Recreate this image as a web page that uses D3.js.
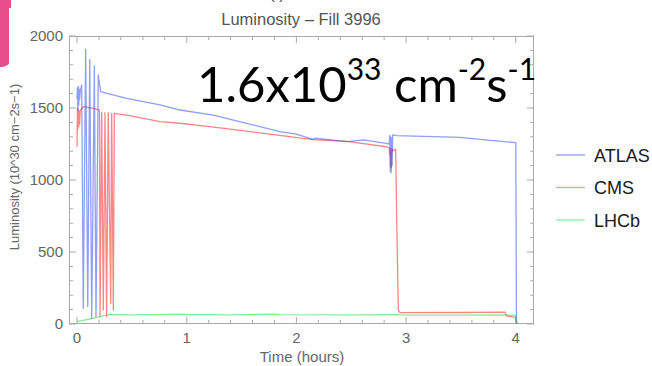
<!DOCTYPE html>
<html>
<head>
<meta charset="utf-8">
<script src="https://cdn.jsdelivr.net/npm/d3@7"></script>
<style>
  html, body { margin: 0; padding: 0; background: #fff; }
  svg { display: block; }
</style>
</head>
<body>
<div id="chart"></div>
<script>
// series (time in hours, luminosity in 10^30 cm-2 s-1)
const atlasTime = [0.000, 0.004, 0.008, 0.012, 0.016, 0.020, 0.024, 0.030, 0.043, 0.057, 0.079, 0.098, 0.116, 0.134, 0.158, 0.173, 0.194, 0.216, 0.300, 0.453, 0.757, 0.939, 1.243, 1.547, 1.850, 2.000, 2.150, 2.165, 2.460, 2.610, 2.820, 2.845, 2.852, 2.856, 2.860, 2.864, 2.868, 2.872, 2.878, 2.914, 3.490, 3.795, 4.000, 4.006];
const atlasLumi = [1560, 1640, 1480, 1650, 1520, 1630, 1560, 1620, 1660, 109, 1907, 121, 1838, 40, 1792, 51, 1729, 1613, 1597, 1567, 1521, 1486, 1451, 1394, 1336, 1319, 1282, 1290, 1266, 1278, 1255, 1250, 1310, 1060, 1300, 1050, 1290, 1100, 1313, 1308, 1296, 1273, 1259, 5];

const cmsTime = [0.000, 0.004, 0.008, 0.012, 0.016, 0.020, 0.024, 0.028, 0.032, 0.057, 0.150, 0.205, 0.210, 0.225, 0.240, 0.255, 0.270, 0.285, 0.307, 0.316, 0.331, 0.340, 0.453, 0.757, 0.939, 1.210, 1.547, 2.150, 2.460, 2.820, 2.845, 2.850, 2.854, 2.858, 2.862, 2.866, 2.870, 2.876, 2.899, 2.905, 2.915, 2.929, 2.944, 3.500, 3.900, 3.917, 4.000, 4.010];
const cmsLumi = [1231, 1500, 1350, 1490, 1370, 1480, 1390, 1470, 1486, 1509, 1498, 1486, 51, 1467, 97, 1467, 51, 1467, 144, 1463, 97, 1463, 1451, 1405, 1394, 1370, 1339, 1280, 1268, 1231, 1225, 1180, 1222, 1090, 1215, 1085, 1220, 1200, 1215, 1210, 700, 97, 79, 80, 83, 56, 46, 0];

const lhcbTime = [0.000, 0.149, 0.210, 0.300, 0.500, 0.950, 1.000, 1.400, 1.800, 1.850, 2.500, 2.900, 3.000, 3.500, 3.900, 4.000, 4.010];
const lhcbLumi = [16, 40, 51, 66, 64, 68, 66, 64, 68, 65, 64, 65, 62, 62, 63, 60, 0];

const xTicks = [0, 1, 2, 3, 4];
const yTicks = [0, 500, 1000, 1500, 2000];
const legendNames = ['ATLAS', 'CMS', 'LHCb'];

const W = 652, H = 366;
const frame = { left: 69, right: 534, top: 36, bottom: 324 };
const lineColors = ['rgb(50,80,235)', 'rgb(245,35,35)', 'rgb(40,220,70)'];
const legendColors = ['#8c9cf2', '#ff9c9c', '#8eee9e'];
const grey = '#666';

const svg = d3.select('#chart').append('svg')
  .attr('width', W)
  .attr('height', H);

// pink slide decoration peeking out at top left
svg.append('rect')
  .attr('x', -20).attr('y', -20)
  .attr('width', 31).attr('height', 87)
  .attr('rx', 9)
  .attr('fill', '#e84d8c');
svg.append('rect')
  .attr('x', 9).attr('y', 8)
  .attr('width', W).attr('height', H)
  .attr('fill', '#fff');

const x = d3.scaleLinear().domain([-0.073, 4.166]).range([frame.left, frame.right]);
const y = d3.scaleLinear().domain([0, 2000]).range([frame.bottom, frame.top]);

svg.append('clipPath').attr('id', 'plotclip')
  .append('rect')
  .attr('x', frame.left).attr('y', frame.top - 2)
  .attr('width', frame.right - frame.left)
  .attr('height', frame.bottom - frame.top + 2);

// frame ticks (major inward, minor shorter) on all four sides
const minorX = d3.range(0, 4.2, 0.2);
const minorY = d3.range(0, 2001, 100);
const axes = svg.append('g').attr('stroke', '#aaa').attr('stroke-width', 1);

axes.selectAll('.tb').data(minorX).enter().append('line')
  .attr('x1', d => x(d)).attr('x2', d => x(d))
  .attr('y1', frame.bottom).attr('y2', d => frame.bottom - (Math.abs(d - Math.round(d)) < 1e-6 ? 7 : 4));
axes.selectAll('.tt').data(minorX).enter().append('line')
  .attr('x1', d => x(d)).attr('x2', d => x(d))
  .attr('y1', frame.top).attr('y2', d => frame.top + (Math.abs(d - Math.round(d)) < 1e-6 ? 7 : 4));
axes.selectAll('.tl').data(minorY).enter().append('line')
  .attr('y1', d => y(d)).attr('y2', d => y(d))
  .attr('x1', frame.left).attr('x2', d => frame.left + (d % 500 === 0 ? 7 : 4));
axes.selectAll('.tr').data(minorY).enter().append('line')
  .attr('y1', d => y(d)).attr('y2', d => y(d))
  .attr('x1', frame.right).attr('x2', d => frame.right - (d % 500 === 0 ? 7 : 4));

axes.append('rect')
  .attr('x', frame.left + 0.5).attr('y', frame.top + 0.5)
  .attr('width', frame.right - frame.left - 1)
  .attr('height', frame.bottom - frame.top - 1)
  .attr('fill', 'none');

// tick labels
const labels = svg.append('g')
  .attr('font-family', 'Liberation Sans, Arial, sans-serif')
  .attr('font-size', 15)
  .attr('fill', grey);

labels.selectAll('.xl').data(xTicks).enter().append('text')
  .attr('x', d => x(d))
  .attr('y', 343)
  .attr('text-anchor', 'middle')
  .text(d => d);

labels.selectAll('.yl').data(yTicks).enter().append('text')
  .attr('x', 63)
  .attr('y', d => y(d) + 5)
  .attr('text-anchor', 'end')
  .text(d => d);

labels.append('text')
  .attr('x', 302).attr('y', 362)
  .attr('text-anchor', 'middle')
  .text('Time (hours)');

labels.append('text')
  .attr('transform', 'translate(19,167) rotate(-90)')
  .attr('text-anchor', 'middle')
  .attr('font-size', 13)
  .text('Luminosity (10^30 cm\u22122s\u22121)');

labels.append('text')
  .attr('x', 301).attr('y', 25)
  .attr('text-anchor', 'middle')
  .attr('font-size', 16.5)
  .attr('fill', '#555')
  .text('Luminosity \u2013 Fill 3996');

// cut-off line above the title (only its lowest strokes show)
labels.append('text')
  .attr('x', 277).attr('y', -1)
  .attr('text-anchor', 'middle')
  .attr('font-size', 16.5)
  .attr('fill', '#555')
  .text('(                                   )');

// data lines
const line = d3.line().x(d => x(d[0])).y(d => y(d[1]));
const series = [
  [atlasTime, atlasLumi],
  [cmsTime, cmsLumi],
  [lhcbTime, lhcbLumi]
];
const plot = svg.append('g').attr('clip-path', 'url(#plotclip)');

// CMS underneath, then ATLAS, LHCb on top
[1, 0, 2].forEach(i => {
  const [t, v] = series[i];
  plot.append('path')
    .datum(t.map((d, j) => [d, v[j]]))
    .attr('fill', 'none')
    .attr('stroke', lineColors[i])
    .attr('stroke-opacity', 0.55)
    .attr('stroke-width', 1.3)
    .attr('stroke-linejoin', 'round')
    .attr('d', line);
});

// legend
const legend = svg.append('g')
  .attr('font-family', 'Liberation Sans, Arial, sans-serif')
  .attr('font-size', 18)
  .attr('fill', '#1a1a1a');

legend.selectAll('line').data(legendNames).enter().append('line')
  .attr('x1', 556).attr('x2', 585)
  .attr('y1', (d, i) => 155 + i * 32.5)
  .attr('y2', (d, i) => 155 + i * 32.5)
  .attr('stroke', (d, i) => legendColors[i])
  .attr('stroke-width', 1.3);

legend.selectAll('text').data(legendNames).enter().append('text')
  .attr('x', 594)
  .attr('y', (d, i) => 161.5 + i * 32.5)
  .text(d => d);

// big annotation
const note = svg.append('text')
  .attr('x', 197).attr('y', 102)
  .attr('font-family', 'Lato, Open Sans, sans-serif')
  .attr('font-size', 49)
  .attr('fill', '#000');
note.append('tspan').text('1.6x10');
note.append('tspan').attr('font-size', 30).attr('dy', -22).text('33');
note.append('tspan').attr('dy', 22).text(' cm');
note.append('tspan').attr('font-size', 30).attr('dy', -22).text('-2');
note.append('tspan').attr('dy', 22).text('s');
note.append('tspan').attr('font-size', 30).attr('dy', -22).text('-1');
</script>
</body>
</html>
